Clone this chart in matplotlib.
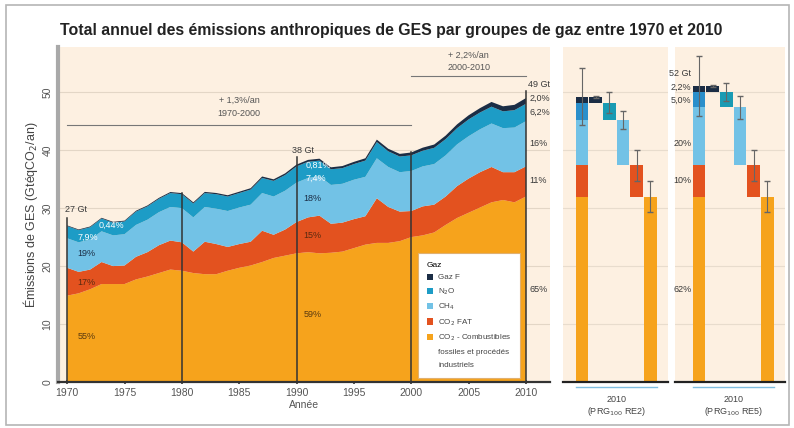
import matplotlib
matplotlib.use("Agg")
import matplotlib.pyplot as plt
from matplotlib.patches import Patch, Rectangle

plt.rcParams['font.family'] = ['Liberation Sans', 'DejaVu Sans']

# ---- data (Gt eq CO2 / an) ----
years = list(range(1970, 2011))
co2_ff = [14.9, 15.3, 16.0, 16.9, 16.9, 16.9, 17.7, 18.2, 18.8, 19.4,
          19.2, 18.8, 18.6, 18.6, 19.2, 19.7, 20.1, 20.7, 21.4, 21.8,
          22.2, 22.4, 22.2, 22.3, 22.5, 23.1, 23.7, 24.0, 24.0, 24.3,
          25.0, 25.3, 25.8, 27.1, 28.3, 29.2, 30.1, 31.0, 31.4, 31.0,
          32.0]
co2_folu = [4.8, 3.7, 3.4, 3.8, 3.1, 3.2, 3.9, 4.2, 4.8, 5.0,
            4.9, 3.7, 5.6, 5.2, 4.1, 4.1, 4.1, 5.4, 4.0, 4.5,
            5.4, 6.0, 6.5, 5.0, 5.0, 5.0, 4.9, 7.7, 6.2, 5.1,
            4.5, 5.0, 4.8, 4.9, 5.5, 5.9, 6.1, 6.1, 4.8, 5.2,
            5.2]
ch4 = [5.1, 5.1, 5.2, 5.3, 5.3, 5.4, 5.5, 5.6, 5.7, 5.8,
       5.9, 5.9, 6.0, 6.1, 6.2, 6.3, 6.4, 6.5, 6.6, 6.7,
       6.8, 6.8, 6.8, 6.7, 6.7, 6.8, 6.8, 6.9, 6.9, 6.8,
       6.9, 6.9, 7.0, 7.1, 7.2, 7.3, 7.4, 7.5, 7.6, 7.7,
       7.8]
n2o = [2.1, 2.1, 2.1, 2.2, 2.2, 2.2, 2.3, 2.3, 2.3, 2.4,
       2.4, 2.4, 2.4, 2.5, 2.5, 2.5, 2.6, 2.6, 2.7, 2.7,
       2.8, 2.8, 2.7, 2.7, 2.7, 2.7, 2.8, 2.8, 2.7, 2.7,
       2.7, 2.7, 2.8, 2.8, 2.8, 2.9, 2.9, 2.9, 2.9, 3.0,
       3.0]
f_gas = [0.12, 0.12, 0.13, 0.13, 0.14, 0.14, 0.15, 0.16, 0.17, 0.18,
         0.19, 0.20, 0.20, 0.21, 0.22, 0.23, 0.24, 0.26, 0.27, 0.29,
         0.31, 0.32, 0.33, 0.34, 0.36, 0.38, 0.40, 0.42, 0.44, 0.46,
         0.50, 0.53, 0.57, 0.61, 0.66, 0.71, 0.76, 0.82, 0.87, 0.92,
         0.98]

gas_names = ["Gaz F", "N$_2$O", "CH$_4$", "CO$_2$ FAT", "CO$_2$ - Combustibles"]
ff_name_extra = ["fossiles et procédés", "industriels"]

# 2010 bars: order FF, FOLU, CH4, N2O, F
sar_values = [32.0, 5.4, 7.8, 3.0, 1.0]
sar_err = [2.6, 2.7, 1.6, 1.8, 0.2]
sar_total_err = 4.9
ar5_values = [32.0, 5.4, 10.0, 2.6, 1.1]
ar5_err = [2.6, 2.7, 2.0, 1.6, 0.2]
ar5_total_err = 5.2

marker_years = [1970, 1980, 1990, 2000, 2010]
marker_totals = {1970: "27 Gt", 1990: "38 Gt", 2010: "49 Gt"}
shares_1970 = ["0,44%", "7,9%", "19%", "17%", "55%"]
shares_1990 = ["0,81%", "7,4%", "18%", "15%", "59%"]
shares_2010 = ["2,0%", "6,2%", "16%", "11%", "65%"]
shares_ar5 = ["2,2%", "5,0%", "20%", "10%", "62%"]

# colours
PEACH = "#fdf0e1"
C_FF = "#f6a31c"
C_FOLU = "#e3521f"
C_CH4 = "#72c2e6"
C_N2O = "#1d9cc6"
C_F = "#1b2d45"
colors = [C_FF, C_FOLU, C_CH4, C_N2O, C_F]
TXT = "#3a3a3a"

W, H = 794, 428
fig = plt.figure(figsize=(W / 100, H / 100), dpi=100)
fig.patches.append(Rectangle((6 / W, 3 / H), 783 / W, 420 / H, transform=fig.transFigure,
                             fill=False, edgecolor="#b5b5b5", lw=1.2))
fig.text(60 / W, 1 - 31 / H,
         "Total annuel des émissions anthropiques de GES par groupes de gaz entre 1970 et 2010",
         fontsize=11.4, fontweight="bold", color="#222222", va="center", ha="left")

YMAX = 57.8

# ---- main panel ----
ax = fig.add_axes([58 / W, 46 / H, 492 / W, 335 / H])
ax.set_facecolor(PEACH)
for g in range(10, 60, 10):
    ax.axhline(g, color="#e3d6c6", lw=0.8, zorder=0)
ax.stackplot(years, co2_ff, co2_folu, ch4, n2o, f_gas, colors=colors, lw=0, zorder=2)
ax.set_xlim(1969.2, 2012.1)
ax.set_ylim(0, YMAX)

totals = [a + b + c + d + e for a, b, c, d, e in zip(co2_ff, co2_folu, ch4, n2o, f_gas)]
for yr in marker_years:
    top = totals[years.index(yr)]
    ext = 1.3 if yr in marker_totals else 0
    ax.plot([yr, yr], [0, top + ext], color="#333333", lw=1.1, zorder=3)

ax.set_xticks(range(1970, 2011, 5))
ax.set_yticks(range(0, 60, 10))
ax.set_yticklabels([str(v) for v in range(0, 60, 10)], rotation=90, va="center")
ax.tick_params(axis="x", length=3, direction="inout", width=1.2, color="#333333",
               labelsize=7.5, labelcolor="#555555", pad=3)
ax.tick_params(axis="y", length=0, labelsize=7.5, labelcolor="#555555", pad=4)
for s in ["top", "right"]:
    ax.spines[s].set_visible(False)
ax.spines["left"].set_color("#a9a9a9")
ax.spines["left"].set_linewidth(3)
ax.spines["bottom"].set_color("#333333")
ax.spines["bottom"].set_linewidth(1.6)
ax.set_xlabel("Année", fontsize=7.5, color="#555555", labelpad=1)
ax.set_ylabel("Émissions de GES (GtéqCO$_2$/an)", fontsize=9, color="#444444", labelpad=2)

# growth annotations
ax.plot([1970, 2000], [44.3, 44.3], color="#777777", lw=0.8, zorder=1)
ax.text(1985, 48.6, "+ 1,3%/an", ha="center", va="center", fontsize=6.5, color="#555555")
ax.text(1985, 46.4, "1970-2000", ha="center", va="center", fontsize=6.5, color="#555555")
ax.plot([2000, 2010], [52.8, 52.8], color="#777777", lw=0.8, zorder=1)
ax.text(2005, 56.4, "+ 2,2%/an", ha="center", va="center", fontsize=6.5, color="#555555")
ax.text(2005, 54.3, "2000-2010", ha="center", va="center", fontsize=6.5, color="#555555")

lab_kw = dict(fontsize=6.5, va="center", ha="left", zorder=5)
# 1970
ax.text(1969.8, 29.7, marker_totals[1970], color=TXT, **lab_kw)
ax.text(1972.7, 27.1, shares_1970[0], color="white", **lab_kw)
ax.text(1970.9, 25.0, shares_1970[1], color="white", **lab_kw)
ax.text(1970.9, 22.2, shares_1970[2], color="#1b2d45", **lab_kw)
ax.text(1970.9, 17.2, shares_1970[3], color="#5a2a10", **lab_kw)
ax.text(1970.9, 7.8, shares_1970[4], color="#5a3a10", **lab_kw)
# 1990
ax.text(1989.6, 40.0, marker_totals[1990], color=TXT, **lab_kw)
ax.text(1990.8, 37.4, shares_1990[0], color="white", **lab_kw)
ax.text(1990.8, 35.2, shares_1990[1], color="white", **lab_kw)
ax.text(1990.6, 31.7, shares_1990[2], color="#1b2d45", **lab_kw)
ax.text(1990.6, 25.2, shares_1990[3], color="#5a2a10", **lab_kw)
ax.text(1990.6, 11.6, shares_1990[4], color="#5a3a10", **lab_kw)
# 2010
side_y = [49.0, 46.6, 41.2, 34.8, 15.9]
ax.text(2010.2, 51.4, marker_totals[2010], color=TXT, clip_on=False, **lab_kw)
for txt, yv in zip(shares_2010, side_y):
    ax.text(2010.3, yv, txt, color=TXT, clip_on=False, **lab_kw)

handles = [Patch(facecolor=c, edgecolor="none", label=l)
           for c, l in zip([C_F, C_N2O, C_CH4, C_FOLU, C_FF], gas_names)]
handles += [Patch(facecolor="none", edgecolor="none", label=l) for l in ff_name_extra]
leg = ax.legend(handles=handles, title="Gaz", loc="lower left", bbox_to_anchor=(0.732, 0.012),
                fontsize=5.8, title_fontsize=6, frameon=True, fancybox=False,
                edgecolor="#e0b070", facecolor="white", framealpha=1,
                handlelength=0.8, handleheight=0.8, handletextpad=0.6,
                borderpad=1.1, labelspacing=0.62, alignment="left", borderaxespad=0)
leg.get_frame().set_linewidth(0.8)
leg.set_zorder(6)
for t in leg.get_texts():
    t.set_color("#444444")


# ---- 2010 bar panels ----
def draw_panel(axp, values, errs, total_err, total_label, caption, shares=None):
    axp.set_facecolor(PEACH)
    for g in range(10, 60, 10):
        axp.axhline(g, color="#e8dccd", lw=0.8, zorder=0)
    stack_cols = [C_FF, C_FOLU, C_CH4, "#2a8fcb", C_F]
    bottom = 0
    starts = []
    for v, c in zip(values, stack_cols):
        axp.bar(0, v, bottom=bottom, width=0.92, color=c, zorder=2)
        starts.append(bottom)
        bottom += v
    total = bottom
    axp.errorbar(0, total, yerr=total_err, fmt="none", ecolor="#666666",
                 elinewidth=0.8, capsize=2, zorder=4)
    sep_cols = [C_FF, C_FOLU, C_CH4, "#1a9bb3", C_F]
    for i in range(5):
        xpos = 5 - i
        axp.bar(xpos, values[i], bottom=starts[i], width=0.92, color=sep_cols[i], zorder=2)
        axp.errorbar(xpos, starts[i] + values[i], yerr=errs[i], fmt="none",
                     ecolor="#666666", elinewidth=0.8, capsize=2, zorder=4)
    axp.set_ylim(0, YMAX)
    axp.set_xticks([])
    axp.set_yticks([])
    for s in ["top", "right", "left"]:
        axp.spines[s].set_visible(False)
    axp.spines["bottom"].set_color("#222222")
    axp.spines["bottom"].set_linewidth(1.6)
    axp.plot([-0.46, 5.46], [-0.9, -0.9], color="#7fbde0", lw=1, clip_on=False)
    axp.text(2.5, -2.2, caption, ha="center", va="top", fontsize=6.5,
             color="#444444", linespacing=1.1)
    if shares is not None:
        kw = dict(fontsize=6.5, va="center", ha="right", color=TXT, zorder=5)
        axp.text(-0.55, 53.3, total_label, **kw)
        for txt, yv in zip(shares, [50.9, 48.6, 41.2, 34.8, 15.9]):
            axp.text(-0.55, yv, txt, **kw)


ax2 = fig.add_axes([563 / W, 46 / H, 105 / W, 335 / H])
ax2.set_xlim(-1.4, 6.3)
draw_panel(ax2, sar_values, sar_err, sar_total_err, "", "2010\n(PRG$_{100}$ RE2)")

ax3 = fig.add_axes([675 / W, 46 / H, 110 / W, 335 / H])
ax3.set_xlim(-1.75, 6.28)
draw_panel(ax3, ar5_values, ar5_err, ar5_total_err, "52 Gt", "2010\n(PRG$_{100}$ RE5)", shares_ar5)

fig.savefig("out.png", dpi=100)
